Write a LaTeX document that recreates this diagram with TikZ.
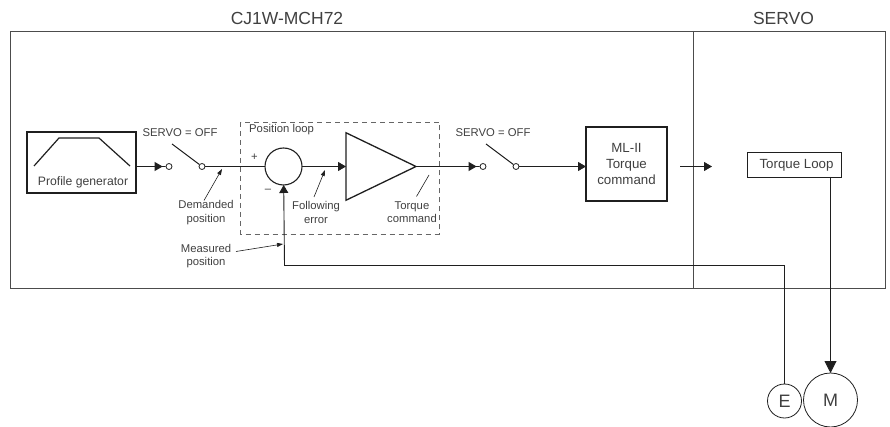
\documentclass[tikz,border=0pt]{standalone}
\usepackage{fontspec}
\setmainfont{Liberation Sans}
\usetikzlibrary{arrows.meta,shapes.geometric}
\definecolor{inkdark}{gray}{0.12}
\definecolor{textgray}{gray}{0.25}
\tikzset{
  blockbox/.style={draw=inkdark,line width=1.1pt,fill=white,align=center,text=textgray,font=\fontsize{13.3}{16.4}\selectfont,outer sep=0pt},
  contact/.style={circle,draw=inkdark,line width=0.8pt,fill=white,inner sep=0pt,minimum size=6pt},
  sumring/.style={circle,draw=inkdark,line width=1.1pt,inner sep=0pt,minimum size=37pt,outer sep=0pt},
  motorring/.style={circle,draw=inkdark,line width=0.8pt,inner sep=0pt,text=textgray,outer sep=0pt,font=\fontsize{18}{21}\selectfont},
  tag/.style={align=center,text=textgray,font=\fontsize{11.3}{13.2}\selectfont,inner sep=0pt},
  head/.style={text=textgray,font=\fontsize{17.5}{20}\selectfont,inner sep=0pt},
  signal/.style={draw=inkdark,line width=0.9pt},
  pointer/.style={draw=inkdark,line width=0.6pt},
  intocontact/.style={-{Stealth[inset=0pt,length=8pt,width=9pt] Butt Cap[length=3pt]}}
}
\begin{document}
\begin{tikzpicture}[x=1pt,y=-1pt,>={Stealth[inset=0pt,length=8pt,width=9pt]}]
  \useasboundingbox (0,0) rectangle (890,427);
  % frames
  \draw[gray!60!black,line width=0.9pt] (10.5,31) rectangle (885.5,288);
  \draw[gray!60!black,line width=0.9pt] (693.5,31) -- (693.5,288);
  \draw[gray!80!black,line width=0.9pt,dash pattern=on 5pt off 4pt] (240.5,122) rectangle (439,234);
  \node[head] (titleA) at (287,18.5) {CJ1W-MCH72};
  \node[head] (titleB) at (783.5,18.5) {SERVO};
  % blocks
  \node[blockbox,line width=1.2pt,minimum width=109pt,minimum height=61pt] (profile) at (81.5,162.5) {};
  \draw[inkdark,line width=1.2pt] (34,166)--(59,138)--(99,138)--(130,166);
  \node[tag,font=\fontsize{12.2}{14}\selectfont] (profiletext) at (83,182) {Profile generator};
  \node[sumring] (sum) at (283.5,166.5) {};
  \node[isosceles triangle,isosceles triangle stretches,draw=inkdark,line width=1.3pt,inner sep=0pt,outer sep=0pt,minimum height=70pt,minimum width=67.5pt,anchor=apex] (amp) at (416,166.5) {};
  \node[blockbox,minimum width=81pt,minimum height=74pt] (mltorque) at (626.5,164) {ML-II\\Torque\\command};
  \node[blockbox,line width=1pt,minimum width=94pt,minimum height=25pt] (torqueloop) at (794,165) {\kern5pt Torque Loop};
  \node[motorring,minimum size=54pt] (motor) at (830.5,400) {M};
  \node[motorring,minimum size=34pt] (encoder) at (784.5,401) {E};
  % switches
  \foreach \nm/\xa in {contactA/169,contactB/202,contactC/483,contactD/516}
    \node[contact] (\nm) at (\xa,166.5) {};
  \coordinate (leverA) at (172,144);
  \coordinate (leverB) at (486,144);
  \draw[inkdark,line width=1pt] (contactB) -- (leverA);
  \draw[inkdark,line width=1pt] (contactD) -- (leverB);
  % signal path
  \draw[signal,intocontact] (profile.east |- contactA) -- (contactA);
  \draw[signal] (contactB) -- (sum);
  \draw[signal,->] (sum) -- (amp.lower side);
  \draw[signal,intocontact] (amp.apex) -- (contactC);
  \draw[signal,->] (contactD) -- (mltorque.west |- contactD);
  \coordinate (linkA) at (680,166.5);
  \coordinate (linkB) at (712,166.5);
  \draw[signal,->] (linkA) -- (linkB);
  \coordinate (loopout) at (830.5,177);
  \draw[signal,-{Stealth[inset=0pt,length=12pt,width=12pt]}] (loopout) -- (motor);
  \coordinate (feedE) at (784.5,265.5);
  \coordinate (feedS) at (284.5,265.5);
  \draw[signal,->] (encoder) -- (feedE) -- (feedS) -- (sum);
  % labels
  \node[tag] (servoA) at (180,133) {SERVO = OFF};
  \node[tag] (servoB) at (493,133) {SERVO = OFF};
  \node[tag,anchor=west] (looptext) at (249,130) {Position loop};
  \node[tag] (plus) at (254.5,157) {+};
  \node[tag] (minus) at (268,191) {--};
  \node[tag] (demanded) at (206,212.5) {Demanded\\position};
  \node[tag] (measured) at (206,256) {Measured\\position};
  \node[tag] (following) at (316,212.5) {Following\\error};
  \node[tag] (torquetext) at (412,212.5) {Torque\\command};
  % pointers
  \foreach \xa/\ya/\xb/\yb in {204/200.5/222/169,314/197/325/170,236/251.5/283/244}
    \draw[pointer,-{Stealth[inset=0pt,length=6pt,width=4pt]}] (\xa,\ya) -- (\xb,\yb);
  \draw[pointer] (416.5,196.5) -- (429,175);
\end{tikzpicture}
\end{document}
